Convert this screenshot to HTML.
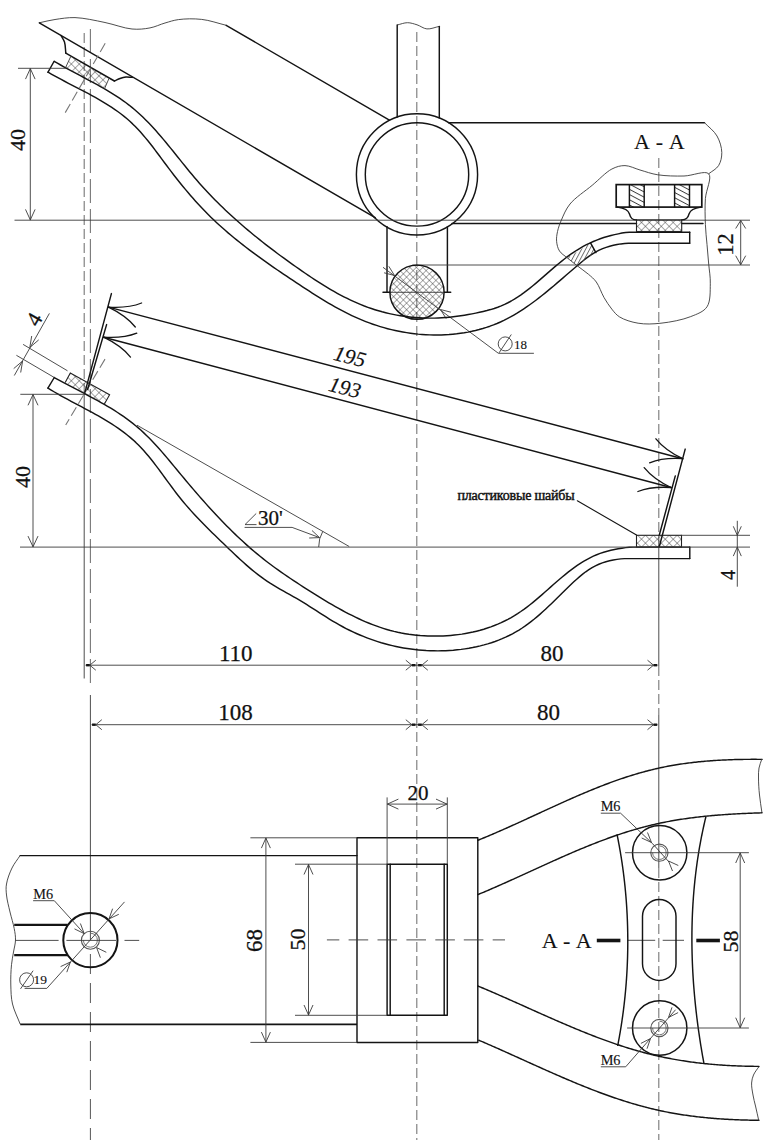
<!DOCTYPE html>
<html><head><meta charset="utf-8"><style>
html,body{margin:0;padding:0;background:#fff;}
body{width:774px;height:1140px;overflow:hidden;}
svg{display:block;}
.m{fill:none;stroke:#141414;stroke-width:1.45;stroke-linejoin:round;stroke-linecap:round;}
.w{fill:none;stroke:#222;stroke-width:1.1;}
.k{fill:none;stroke:#141414;stroke-width:1.9;}
.t{fill:none;stroke:#3a3a3a;stroke-width:0.9;}
.d{fill:none;stroke:#777;stroke-width:1.1;stroke-dasharray:10 4;}
.d2{fill:none;stroke:#555;stroke-width:1;stroke-dasharray:20 9;}
.num{font-family:"Liberation Serif",serif;font-size:21px;fill:#111;stroke:#111;stroke-width:0.25;}
.it{font-family:"Liberation Serif",serif;font-style:italic;font-size:21px;fill:#111;stroke:#111;stroke-width:0.15;}
.sans{font-family:"Liberation Sans",sans-serif;font-size:21px;fill:#111;}
.sm{font-family:"Liberation Serif",serif;font-size:13px;fill:#111;stroke:#111;stroke-width:0.12;}
</style></head><body>
<svg width="774" height="1140" viewBox="0 0 774 1140">
<defs>
<pattern id="xh" width="5.6" height="5.6" patternUnits="userSpaceOnUse" patternTransform="rotate(45)">
<path d="M0,0 L0,5.6 M0,0 L5.6,0" stroke="#333" stroke-width="0.85" fill="none"/>
</pattern>
<pattern id="xb" width="4.6" height="4.6" patternUnits="userSpaceOnUse" patternTransform="rotate(45)">
<path d="M0,0 L0,4.6 M0,0 L4.6,0" stroke="#333" stroke-width="0.8" fill="none"/>
</pattern>
<pattern id="sh" width="4.6" height="4.6" patternUnits="userSpaceOnUse" patternTransform="rotate(28)">
<path d="M0,0.5 L4.6,0.5" stroke="#333" stroke-width="0.9" fill="none"/>
</pattern>
<pattern id="sh2" width="3.6" height="3.6" patternUnits="userSpaceOnUse" patternTransform="rotate(-62)">
<path d="M0,0.5 L3.6,0.5" stroke="#444" stroke-width="0.75" fill="none"/>
</pattern>
</defs>
<rect width="774" height="1140" fill="#fff"/>
<line x1="416.8" y1="32" x2="416.8" y2="1140" class="d"/>
<line x1="658.8" y1="158" x2="658.8" y2="535" class="d"/>
<line x1="658.8" y1="535" x2="658.8" y2="666" class="t"/>
<line x1="658.8" y1="666" x2="658.8" y2="715" class="d"/>
<line x1="658.8" y1="715" x2="658.8" y2="868" class="t"/>
<line x1="658.8" y1="868" x2="658.8" y2="1140" class="d"/>
<line x1="84.2" y1="33" x2="84.2" y2="394" class="d"/>
<line x1="84.2" y1="394" x2="84.2" y2="678.5" class="t"/>
<line x1="90.4" y1="29" x2="90.4" y2="687" class="d" style="stroke-dasharray:24 6"/>
<line x1="90.4" y1="695" x2="90.4" y2="940" class="t"/>
<line x1="90.4" y1="954" x2="90.4" y2="1140" class="d2"/>
<path d="M39.3,22.8 C44.5,21.7 49.4,20.3 55,19.5 C61.2,18.6 67.7,17.4 75,17.6 C84,17.9 95.3,20.5 105,22.5 C114.3,24.4 123.9,28.3 132,29 C138.6,29.6 144.3,29 150,27.9 C155.3,26.9 160.1,24.4 165,23 C169.6,21.7 173.3,20.3 178.4,19.6 C185.1,18.7 193.9,18.5 201.7,19.4 C209.8,20.3 218,23.3 226.2,25.3" class="t"/>
<line x1="226.2" y1="25.3" x2="389.4" y2="120.2" class="m"/>
<line x1="39.3" y1="22.8" x2="375.2" y2="217.7" class="m"/>
<path d="M61,35.5 C62.2,37.7 63.7,39.5 64.5,42 C65.5,45.1 65.4,49.4 65.8,53.1" class="m"/>
<line x1="65.8" y1="53.1" x2="114.4" y2="81" class="m"/>
<path d="M114.4,81 C116.3,80.2 118.1,79.2 120,78.5 C121.9,77.8 124,77.2 126,77 C128.1,76.8 130.2,77.3 132.3,77.4" class="m"/>
<path d="M397.2,25 C400.6,24.2 404.1,22.7 407.5,22.7 C410.7,22.7 413.8,23.8 417,24.8 C420.3,25.8 423.4,28.6 426.9,28.9 C430.7,29.3 435.2,27.2 439.3,26.4" class="t"/>
<line x1="397.2" y1="25" x2="397.2" y2="117.1" class="m"/>
<line x1="439.3" y1="26.4" x2="439.3" y2="118.1" class="m"/>
<circle cx="417" cy="174.4" r="60.6" class="m"/>
<circle cx="417" cy="174.4" r="51.7" class="m"/>
<line x1="448.6" y1="122.7" x2="704.5" y2="122.7" class="m"/>
<path d="M704.5,122.7 C708.7,127.1 714.1,130.9 717,136 C719.8,140.9 721.7,147.3 721.8,152.5 C721.9,157.1 720.8,162 718.6,165.6 C716.4,169.1 712,171.1 708.7,173.8" class="t"/>
<line x1="387" y1="226.6" x2="387" y2="292.3" class="m"/>
<line x1="447.4" y1="226.7" x2="447.4" y2="292.3" class="m"/>
<line x1="452" y1="223.4" x2="636.5" y2="223.4" class="m"/>
<line x1="681.7" y1="223.4" x2="703" y2="223.4" class="m"/>
<line x1="14.5" y1="220.2" x2="750" y2="220.2" class="t"/>
<line x1="412.3" y1="265" x2="750" y2="265" class="t"/>
<circle cx="417" cy="292.2" r="27.1" class="m" style="fill:url(#xb)"/>
<line x1="389" y1="292.3" x2="445" y2="292.3" class="t"/>
<line x1="383" y1="292.3" x2="390" y2="292.3" class="m"/>
<line x1="444.5" y1="292.3" x2="450.7" y2="292.3" class="m"/>
<line x1="383" y1="267.3" x2="498.4" y2="353.3" class="t"/>
<line x1="498.4" y1="353.3" x2="533.9" y2="353.3" class="t"/>
<polyline points="384.1,272.8 394.5,275.5 388.8,266.3" class="t"/>
<polyline points="450.9,312.2 440.5,309.5 446.2,318.7" class="t"/>
<circle cx="505.2" cy="343.9" r="7" class="t"/>
<line x1="499" y1="352.9" x2="511.3" y2="334.5" class="t"/>
<text x="520.5" y="348.7" class="sm" text-anchor="middle" style="font-size:13px">18</text>
<path d="M54.23,61.30 L57.39,63.16 L60.59,65.00 L63.83,66.82 L67.10,68.61 L70.39,70.40 L73.71,72.17 L77.05,73.94 L80.39,75.71 L83.75,77.49 L87.11,79.27 L90.46,81.06 L93.82,82.87 L97.16,84.70 L100.48,86.55 L103.79,88.44 L107.07,90.35 L110.33,92.31 L113.55,94.30 L116.73,96.34 L119.87,98.43 L122.96,100.58 L126.00,102.78 L128.99,105.05 L131.91,107.38 L134.78,109.78 L137.59,112.23 L140.35,114.75 L143.06,117.32 L145.73,119.94 L148.35,122.60 L150.94,125.31 L153.48,128.06 L156.00,130.84 L158.49,133.66 L160.95,136.51 L163.38,139.38 L165.80,142.28 L168.20,145.19 L170.59,148.12 L172.97,151.06 L175.34,154.01 L177.70,156.96 L180.07,159.92 L182.44,162.87 L184.82,165.81 L187.20,168.75 L189.60,171.68 L192.01,174.58 L194.44,177.47 L196.90,180.34 L199.38,183.18 L201.88,185.99 L204.41,188.77 L206.97,191.53 L209.55,194.27 L212.15,196.98 L214.77,199.66 L217.42,202.32 L220.09,204.96 L222.78,207.58 L225.50,210.17 L228.23,212.74 L230.99,215.28 L233.76,217.81 L236.55,220.32 L239.37,222.80 L242.20,225.27 L245.05,227.71 L247.92,230.14 L250.80,232.55 L253.71,234.94 L256.63,237.31 L259.56,239.67 L262.51,242.01 L265.48,244.33 L268.46,246.64 L271.45,248.93 L274.46,251.20 L277.48,253.47 L280.52,255.72 L283.57,257.95 L286.63,260.17 L289.70,262.38 L292.78,264.58 L295.87,266.77 L298.97,268.94 L302.09,271.11 L305.21,273.25 L308.35,275.38 L311.50,277.49 L314.66,279.58 L317.84,281.63 L321.03,283.66 L324.24,285.66 L327.47,287.62 L330.72,289.54 L333.98,291.42 L337.26,293.26 L340.57,295.05 L343.89,296.78 L347.24,298.47 L350.61,300.10 L354.01,301.67 L357.43,303.18 L360.88,304.63 L364.35,306.01 L367.85,307.31 L371.38,308.55 L374.93,309.71 L378.52,310.80 L382.12,311.81 L385.75,312.74 L389.41,313.60 L393.08,314.39 L396.77,315.10 L400.48,315.74 L404.20,316.30 L407.93,316.79 L411.68,317.20 L415.44,317.53 L419.20,317.80 L422.98,317.99 L426.75,318.10 L430.54,318.14 L434.32,318.10 L438.11,317.99 L441.89,317.80 L445.67,317.54 L449.45,317.21 L453.22,316.80 L456.98,316.32 L460.75,315.79 L464.50,315.19 L468.26,314.54 L472.01,313.84 L475.75,313.10 L479.49,312.31 L483.22,311.47 L486.92,310.56 L490.58,309.57 L494.20,308.47 L497.75,307.25 L501.23,305.90 L504.63,304.40 L507.95,302.76 L511.21,301.00 L514.40,299.12 L517.54,297.14 L520.62,295.06 L523.66,292.90 L526.66,290.66 L529.62,288.35 L532.55,285.99 L535.46,283.57 L538.34,281.12 L541.22,278.64 L544.09,276.15 L546.95,273.64 L549.82,271.14 L552.70,268.65 L555.59,266.17 L558.50,263.73 L561.44,261.33 L564.41,258.98 L567.41,256.69 L570.46,254.46 L573.56,252.32 L576.70,250.26 L579.91,248.31 L583.17,246.45 L586.49,244.70 L589.86,243.05 L593.27,241.51 L596.73,240.08 L600.24,238.75 L603.78,237.54 L607.36,236.45 L610.97,235.47 L614.61,234.61 L618.27,233.86 L621.96,233.04 L625.68,232.43 L629.41,232.22 L633.15,232.20 L636.91,232.20 L640.68,232.20 L644.45,232.20 L648.23,232.20 L652.01,232.20 L655.79,232.20 L659.57,232.20 L663.34,232.20 L667.10,232.20 L670.87,232.20 L674.63,232.20 L678.39,232.20 L682.16,232.20 L685.92,232.20 L689.70,232.20" class="m"/>
<path d="M48.08,72.20 L51.30,74.06 L54.56,75.88 L57.86,77.69 L61.20,79.48 L64.57,81.25 L67.96,83.02 L71.36,84.79 L74.78,86.55 L78.21,88.32 L81.64,90.11 L85.07,91.91 L88.49,93.72 L91.90,95.57 L95.29,97.44 L98.65,99.35 L101.99,101.29 L105.29,103.28 L108.55,105.32 L111.77,107.41 L114.94,109.56 L118.05,111.77 L121.10,114.04 L124.09,116.39 L127.01,118.81 L129.85,121.32 L132.62,123.90 L135.31,126.57 L137.94,129.30 L140.51,132.10 L143.02,134.95 L145.48,137.86 L147.91,140.81 L150.29,143.80 L152.65,146.82 L154.97,149.87 L157.29,152.94 L159.58,156.02 L161.87,159.11 L164.16,162.20 L166.46,165.29 L168.76,168.36 L171.08,171.42 L173.42,174.47 L175.77,177.49 L178.14,180.50 L180.53,183.49 L182.95,186.46 L185.38,189.41 L187.83,192.33 L190.31,195.23 L192.82,198.10 L195.35,200.95 L197.91,203.77 L200.50,206.57 L203.11,209.33 L205.76,212.07 L208.44,214.77 L211.16,217.44 L213.90,220.08 L216.68,222.69 L219.49,225.26 L222.33,227.81 L225.19,230.33 L228.08,232.83 L231.00,235.29 L233.94,237.73 L236.91,240.15 L239.90,242.54 L242.91,244.91 L245.94,247.26 L248.99,249.59 L252.05,251.90 L255.13,254.18 L258.23,256.45 L261.35,258.71 L264.47,260.94 L267.61,263.16 L270.76,265.37 L273.92,267.56 L277.08,269.74 L280.26,271.90 L283.44,274.06 L286.62,276.20 L289.81,278.34 L293.01,280.47 L296.20,282.59 L299.40,284.70 L302.59,286.81 L305.79,288.90 L309.00,290.98 L312.20,293.05 L315.42,295.10 L318.65,297.12 L321.89,299.12 L325.14,301.09 L328.40,303.03 L331.68,304.94 L334.98,306.81 L338.30,308.64 L341.64,310.44 L345.00,312.18 L348.39,313.88 L351.80,315.53 L355.24,317.13 L358.71,318.67 L362.21,320.15 L365.75,321.57 L369.32,322.92 L372.92,324.21 L376.56,325.43 L380.23,326.58 L383.93,327.67 L387.66,328.68 L391.41,329.62 L395.18,330.48 L398.98,331.28 L402.79,332.00 L406.62,332.64 L410.46,333.21 L414.31,333.70 L418.17,334.12 L422.04,334.45 L425.91,334.71 L429.78,334.89 L433.65,334.99 L437.52,335.00 L441.38,334.93 L445.23,334.78 L449.07,334.55 L452.90,334.23 L456.72,333.83 L460.51,333.33 L464.29,332.76 L468.05,332.09 L471.78,331.33 L475.48,330.49 L479.15,329.55 L482.79,328.52 L486.40,327.40 L489.97,326.19 L493.51,324.88 L497.00,323.48 L500.45,321.98 L503.85,320.39 L507.21,318.70 L510.54,316.93 L513.82,315.08 L517.07,313.16 L520.28,311.16 L523.46,309.09 L526.61,306.96 L529.73,304.77 L532.83,302.53 L535.90,300.24 L538.95,297.90 L541.98,295.52 L544.99,293.11 L547.99,290.66 L550.97,288.18 L553.94,285.69 L556.90,283.17 L559.85,280.64 L562.79,278.10 L565.73,275.56 L568.67,273.02 L571.61,270.48 L574.55,267.95 L577.49,265.43 L580.45,262.93 L583.42,260.49 L586.44,258.13 L589.50,255.88 L592.64,253.78 L595.87,251.86 L599.20,250.14 L602.63,248.64 L606.15,247.34 L609.74,246.24 L613.40,245.31 L617.11,244.57 L620.86,243.91 L624.64,243.44 L628.45,243.30 L632.26,243.30 L636.09,243.30 L639.93,243.30 L643.77,243.30 L647.62,243.30 L651.46,243.30 L655.29,243.30 L659.12,243.30 L662.94,243.30 L666.75,243.30 L670.57,243.30 L674.38,243.30 L678.20,243.30 L682.03,243.30 L685.86,243.30 L689.70,243.30" class="m"/>
<line x1="689.7" y1="232.2" x2="689.7" y2="243.3" class="m"/>
<line x1="54" y1="61.5" x2="47.9" y2="72.3" class="m"/>
<polygon points="70.8,56.4 109,78.4 104.4,89 65.7,67.3" style="fill:url(#xh)" stroke="none"/>
<line x1="65.7" y1="67.3" x2="70.8" y2="56.4" class="t"/>
<line x1="109" y1="78.4" x2="104.4" y2="89" class="t"/>
<line x1="105.2" y1="43.3" x2="64.1" y2="114.6" class="d"/>
<path d="M708.7,173.8 C705.1,170.1 692.4,175.8 684,176 C675.4,176.2 665.6,176 657.8,174.8 C651.2,173.8 645.7,171.6 640,170 C634.8,168.5 629.8,165.7 625,165.6 C620.5,165.5 616.4,166.7 611.9,169 C605.7,172.2 599,179.7 592.2,185.3 C585,191.3 575.3,197.5 570,204 C565.8,209.2 563.6,215 561.4,220 C559.6,224.1 558.3,227.9 557.5,231.6 C556.8,234.9 556.3,238.1 556.6,241.3 C556.9,244.6 557.7,248.3 559.5,251 C561.3,253.8 564.5,255.5 567.2,257.8 C570.2,260.3 573.5,262.9 576.9,265.5 C580.6,268.4 585.1,271.4 588.5,274.3 C591.5,276.9 593.9,278.7 596.3,282 C599.3,286.1 601.3,292.8 604,297.5 C606.5,301.7 609,305.7 611.8,309.1 C614.2,312.1 616.1,314.7 619.5,316.9 C624.1,319.8 631.5,322.1 638.1,323.2 C645.2,324.4 652.9,324.1 661,323.2 C670.3,322.2 682.5,319.9 690.7,316.6 C697.2,314 703.7,311.8 707,306.8 C710.7,301.3 710.1,291.2 710.3,283.8 C710.5,277 709.3,270.6 708.7,264 C708.2,257.4 707.5,250.9 707,244.4 C706.4,237.8 705.7,231.7 705.4,224.7 C705.1,216.6 704.8,207.1 705.4,198.5 C706,190.1 712.3,177.5 708.7,173.8Z" class="t"/>
<rect x="629.4" y="184.6" width="14.8" height="22.5" fill="url(#sh)"/>
<rect x="674.6" y="184.6" width="14.9" height="22.5" fill="url(#sh)"/>
<rect x="616.2" y="184.6" width="85.6" height="22.5" class="k" style="stroke-width:1.7"/>
<line x1="629.4" y1="184.6" x2="629.4" y2="207.1" class="m"/>
<line x1="644.2" y1="184.6" x2="644.2" y2="207.1" class="m"/>
<line x1="674.6" y1="184.6" x2="674.6" y2="207.1" class="m"/>
<line x1="689.5" y1="184.6" x2="689.5" y2="207.1" class="m"/>
<path d="M617.5,207.1 C624,208 628.5,210.5 629.5,214 C630.5,218 632,219.8 636.5,219.9" class="m"/>
<path d="M701,207.1 C694,208 690,210.5 689,214 C688,218 686.5,219.8 681.7,219.9" class="m"/>
<rect x="636.5" y="219.9" width="45.2" height="11.6" class="w" style="fill:url(#xh)"/>
<polygon points="567.2,257.8 590.5,242.9 595.9,252.6 576.9,265.5" fill="url(#sh2)"/>
<line x1="590.5" y1="242.9" x2="595.9" y2="252.6" class="m"/>
<text x="659.3" y="148.6" class="num" text-anchor="middle" style="font-size:22px;word-spacing:1.5px;stroke-width:0.1">A - A</text>
<line x1="18" y1="68.3" x2="66" y2="68.3" class="t"/>
<line x1="30.3" y1="68.3" x2="30.3" y2="220.2" class="t"/>
<polyline points="35.1,79.1 30.3,68.6 25.5,79.1" class="t"/>
<polyline points="25.5,209.4 30.3,219.9 35.1,209.4" class="t"/>
<text x="24.5" y="140" class="num" text-anchor="middle" transform="rotate(-90 24.5 140)" style="font-size:22px">40</text>
<line x1="740.7" y1="220.2" x2="740.7" y2="265" class="t"/>
<polyline points="745.7,228.5 740.7,220.5 735.7,228.5" class="t"/>
<polyline points="735.7,255.7 740.7,264.7 745.7,255.7" class="t"/>
<text x="732.5" y="244.5" class="num" text-anchor="middle" transform="rotate(-90 732.5 244.5)" style="font-size:22.5px">12</text>
<path d="M54.26,377.61 L57.54,379.41 L60.83,381.19 L64.15,382.96 L67.48,384.72 L70.83,386.47 L74.19,388.22 L77.55,389.97 L80.92,391.72 L84.28,393.48 L87.65,395.25 L91.00,397.04 L94.35,398.84 L97.68,400.67 L101.00,402.51 L104.29,404.39 L107.56,406.30 L110.81,408.24 L114.02,410.22 L117.20,412.24 L120.35,414.31 L123.45,416.42 L126.51,418.59 L129.53,420.81 L132.49,423.09 L135.40,425.44 L138.26,427.84 L141.06,430.31 L143.80,432.85 L146.50,435.43 L149.16,438.07 L151.77,440.75 L154.35,443.48 L156.90,446.25 L159.42,449.05 L161.91,451.88 L164.38,454.74 L166.83,457.61 L169.27,460.51 L171.69,463.42 L174.11,466.34 L176.53,469.27 L178.95,472.19 L181.37,475.12 L183.80,478.03 L186.23,480.95 L188.68,483.85 L191.13,486.74 L193.59,489.63 L196.06,492.51 L198.55,495.37 L201.04,498.22 L203.54,501.07 L206.06,503.89 L208.59,506.71 L211.14,509.50 L213.70,512.29 L216.27,515.05 L218.86,517.80 L221.47,520.53 L224.09,523.24 L226.74,525.93 L229.40,528.60 L232.07,531.24 L234.77,533.87 L237.49,536.47 L240.23,539.04 L243.00,541.59 L245.78,544.12 L248.59,546.61 L251.42,549.08 L254.27,551.52 L257.15,553.93 L260.06,556.31 L262.99,558.66 L265.95,560.98 L268.93,563.26 L271.95,565.51 L274.98,567.74 L278.04,569.93 L281.12,572.10 L284.22,574.25 L287.34,576.38 L290.47,578.49 L293.62,580.59 L296.78,582.67 L299.94,584.74 L303.12,586.80 L306.30,588.86 L309.49,590.90 L312.69,592.93 L315.90,594.94 L319.12,596.94 L322.35,598.91 L325.59,600.87 L328.84,602.80 L332.11,604.70 L335.39,606.58 L338.69,608.43 L342.00,610.24 L345.33,612.02 L348.67,613.77 L352.03,615.47 L355.41,617.13 L358.80,618.74 L362.22,620.29 L365.66,621.80 L369.12,623.24 L372.60,624.62 L376.11,625.93 L379.64,627.18 L383.20,628.35 L386.79,629.45 L390.40,630.47 L394.04,631.40 L397.71,632.25 L401.41,633.01 L405.14,633.68 L408.88,634.27 L412.65,634.77 L416.43,635.19 L420.22,635.53 L424.03,635.78 L427.83,635.96 L431.64,636.06 L435.45,636.09 L439.25,636.04 L443.05,635.91 L446.84,635.71 L450.61,635.43 L454.37,635.07 L458.12,634.63 L461.85,634.11 L465.56,633.50 L469.25,632.81 L472.92,632.04 L476.56,631.17 L480.18,630.22 L483.77,629.19 L487.32,628.06 L490.85,626.84 L494.34,625.52 L497.79,624.11 L501.21,622.61 L504.58,621.01 L507.91,619.31 L511.20,617.52 L514.44,615.62 L517.63,613.62 L520.78,611.52 L523.88,609.34 L526.94,607.07 L529.97,604.72 L532.96,602.32 L535.93,599.87 L538.87,597.37 L541.80,594.84 L544.72,592.28 L547.63,589.72 L550.53,587.15 L553.43,584.58 L556.34,582.03 L559.26,579.51 L562.20,577.02 L565.15,574.58 L568.13,572.19 L571.13,569.86 L574.17,567.61 L577.24,565.44 L580.36,563.37 L583.52,561.40 L586.73,559.54 L589.99,557.80 L593.32,556.19 L596.71,554.73 L600.16,553.41 L603.67,552.23 L607.24,551.19 L610.84,550.27 L614.49,549.47 L618.18,548.80 L621.89,548.22 L625.63,547.61 L629.38,547.22 L633.14,547.10 L636.91,547.10 L640.69,547.10 L644.47,547.10 L648.26,547.10 L652.05,547.10 L655.83,547.10 L659.62,547.10 L663.40,547.10 L667.18,547.10 L670.95,547.10 L674.72,547.10 L678.49,547.10 L682.26,547.10 L686.02,547.10 L689.79,547.10" class="m"/>
<path d="M47.99,388.11 L51.18,390.08 L54.42,392.00 L57.70,393.90 L61.01,395.77 L64.35,397.62 L67.72,399.45 L71.11,401.28 L74.52,403.09 L77.93,404.90 L81.36,406.72 L84.78,408.54 L88.20,410.37 L91.61,412.22 L95.01,414.09 L98.39,415.98 L101.75,417.91 L105.08,419.86 L108.38,421.86 L111.64,423.91 L114.85,426.00 L118.02,428.14 L121.14,430.35 L124.20,432.61 L127.20,434.95 L130.13,437.35 L132.99,439.83 L135.77,442.40 L138.48,445.04 L141.11,447.76 L143.68,450.56 L146.19,453.41 L148.64,456.32 L151.05,459.28 L153.43,462.28 L155.76,465.32 L158.08,468.39 L160.37,471.48 L162.65,474.59 L164.92,477.70 L167.18,480.82 L169.46,483.94 L171.75,487.05 L174.05,490.14 L176.38,493.21 L178.74,496.25 L181.14,499.25 L183.58,502.21 L186.05,505.14 L188.57,508.03 L191.11,510.89 L193.69,513.72 L196.29,516.52 L198.93,519.30 L201.58,522.06 L204.26,524.79 L206.96,527.51 L209.68,530.22 L212.41,532.91 L215.15,535.59 L217.91,538.26 L220.68,540.92 L223.45,543.59 L226.22,546.25 L229.00,548.91 L231.78,551.57 L234.58,554.22 L237.38,556.85 L240.20,559.46 L243.04,562.05 L245.90,564.60 L248.79,567.12 L251.72,569.59 L254.67,572.01 L257.67,574.37 L260.71,576.67 L263.79,578.90 L266.93,581.05 L270.11,583.13 L273.34,585.14 L276.61,587.11 L279.91,589.03 L283.23,590.92 L286.57,592.80 L289.91,594.68 L293.25,596.57 L296.59,598.48 L299.92,600.43 L303.22,602.43 L306.51,604.46 L309.78,606.53 L313.05,608.61 L316.31,610.71 L319.57,612.81 L322.83,614.90 L326.10,616.97 L329.38,619.02 L332.67,621.03 L335.99,622.99 L339.32,624.90 L342.69,626.75 L346.08,628.53 L349.49,630.24 L352.93,631.89 L356.40,633.48 L359.89,635.00 L363.40,636.45 L366.94,637.84 L370.50,639.16 L374.08,640.41 L377.68,641.59 L381.30,642.71 L384.95,643.75 L388.61,644.73 L392.29,645.63 L395.99,646.47 L399.71,647.23 L403.45,647.93 L407.20,648.55 L410.97,649.09 L414.76,649.57 L418.56,649.97 L422.38,650.30 L426.21,650.56 L430.06,650.73 L433.92,650.84 L437.79,650.87 L441.67,650.82 L445.56,650.70 L449.46,650.49 L453.35,650.21 L457.23,649.84 L461.11,649.40 L464.98,648.86 L468.83,648.25 L472.66,647.55 L476.47,646.76 L480.25,645.88 L484.00,644.91 L487.72,643.85 L491.40,642.70 L495.04,641.46 L498.63,640.12 L502.17,638.69 L505.66,637.15 L509.10,635.52 L512.47,633.80 L515.78,631.97 L519.02,630.04 L522.19,628.01 L525.30,625.88 L528.36,623.67 L531.36,621.38 L534.32,619.02 L537.23,616.59 L540.11,614.09 L542.96,611.55 L545.78,608.95 L548.58,606.32 L551.37,603.65 L554.15,600.95 L556.93,598.23 L559.71,595.50 L562.49,592.75 L565.29,590.01 L568.10,587.27 L570.94,584.54 L573.80,581.83 L576.70,579.18 L579.66,576.61 L582.66,574.14 L585.73,571.79 L588.87,569.61 L592.10,567.60 L595.41,565.80 L598.82,564.23 L602.32,562.87 L605.90,561.72 L609.54,560.77 L613.24,560.00 L616.98,559.39 L620.76,558.86 L624.56,558.62 L628.38,558.60 L632.22,558.60 L636.06,558.60 L639.92,558.60 L643.77,558.60 L647.62,558.60 L651.47,558.60 L655.30,558.60 L659.14,558.60 L662.96,558.60 L666.79,558.60 L670.61,558.60 L674.44,558.60 L678.27,558.60 L682.11,558.60 L685.95,558.60 L689.80,558.60" class="m"/>
<line x1="689.8" y1="547.1" x2="689.8" y2="558.6" class="m"/>
<line x1="54.3" y1="377.5" x2="47.9" y2="388.1" class="m"/>
<polygon points="70.3,373.1 109.6,394.8 104.4,404.1 65.2,382.6" style="fill:url(#xh)" stroke="none"/>
<polyline points="65.2,382.6 70.3,373.1 109.6,394.8 104.4,404.1" class="w"/>
<line x1="105" y1="359.1" x2="65.7" y2="425" class="d"/>
<rect x="636.5" y="535.3" width="45" height="11.8" class="w" style="fill:url(#xh)"/>
<line x1="111.4" y1="293.6" x2="84.6" y2="393.6" class="m"/>
<line x1="106.6" y1="324.6" x2="87.6" y2="389.5" class="m"/>
<line x1="685.2" y1="449.1" x2="659.4" y2="546.3" class="m"/>
<line x1="675.3" y1="475.9" x2="659.4" y2="534.7" class="m"/>
<line x1="108.5" y1="307.1" x2="682.7" y2="458.7" class="m"/>
<line x1="103.7" y1="337.2" x2="671" y2="487.5" class="m"/>
<path d="M108.5,307.1 Q128,308.4 141.6,303" class="m" style="stroke-width:1.3"/>
<path d="M108.5,307.1 Q126.1,315.6 135.3,327" class="m" style="stroke-width:1.3"/>
<path d="M682.7,458.7 Q663.2,457.4 649.6,462.8" class="m" style="stroke-width:1.3"/>
<path d="M682.7,458.7 Q665.1,450.2 655.9,438.8" class="m" style="stroke-width:1.3"/>
<path d="M103.7,337.2 Q123.2,338.5 136.8,333.2" class="m" style="stroke-width:1.3"/>
<path d="M103.7,337.2 Q121.3,345.7 130.5,357.1" class="m" style="stroke-width:1.3"/>
<path d="M671,487.5 Q651.5,486.2 637.9,491.5" class="m" style="stroke-width:1.3"/>
<path d="M671,487.5 Q653.4,479 644.2,467.6" class="m" style="stroke-width:1.3"/>
<text x="348" y="363.5" class="it" text-anchor="middle" transform="rotate(14.8 348 363.5)" style="font-size:21.5px">195</text>
<text x="343" y="394.5" class="it" text-anchor="middle" transform="rotate(14.8 343 394.5)" style="font-size:21.5px">193</text>
<line x1="137" y1="425.2" x2="349.2" y2="546.5" class="t"/>
<line x1="20" y1="547.1" x2="750" y2="547.1" class="t"/>
<line x1="244.6" y1="527.4" x2="292.1" y2="527.4" class="t"/>
<line x1="292.1" y1="527.4" x2="319.5" y2="537.6" class="t"/>
<polyline points="309.2,538 319.5,537.6 312,530.5" class="t"/>
<path d="M322.8,531.3 A30.5,30.5 0 0 0 318.7,547" class="t"/>
<text x="270.3" y="524.5" class="num" text-anchor="middle" style="font-size:21px">30'</text>
<polyline points="256.2,513.5 245,524.6 256.5,524.6" class="t"/>
<line x1="23.1" y1="344.4" x2="67.5" y2="370.8" class="t"/>
<line x1="16.4" y1="355.3" x2="54.3" y2="377.5" class="t"/>
<line x1="49.4" y1="313.4" x2="14.3" y2="375.5" class="t"/>
<polyline points="31.7,336 29.8,347.5 38.7,339.9" class="t"/>
<polyline points="20.7,372.5 22.6,361 13.7,368.6" class="t"/>
<text x="40.5" y="323" class="num" text-anchor="middle" transform="rotate(-60 40.5 323)" style="font-size:22px">4</text>
<line x1="20.3" y1="394.3" x2="85.3" y2="394.3" class="t"/>
<line x1="33" y1="394.3" x2="33" y2="547.1" class="t"/>
<polyline points="38,405.3 33,394.6 28,405.3" class="t"/>
<polyline points="28,536.1 33,546.8 38,536.1" class="t"/>
<text x="30.2" y="477" class="num" text-anchor="middle" transform="rotate(-90 30.2 477)" style="font-size:22px">40</text>
<line x1="681.4" y1="535.3" x2="750" y2="535.3" class="t"/>
<line x1="737.3" y1="520.8" x2="737.3" y2="586.7" class="t"/>
<polyline points="733.3,526.3 737.3,535.3 741.3,526.3" class="t"/>
<polyline points="741.3,556.1 737.3,547.1 733.3,556.1" class="t"/>
<text x="734.5" y="575" class="num" text-anchor="middle" transform="rotate(-90 734.5 575)" style="font-size:20px">4</text>
<text x="516" y="499.5" class="sm" text-anchor="middle" style="font-size:14px;stroke-width:0.45;letter-spacing:-0.2px">пластиковые шайбы</text>
<line x1="577.3" y1="500.8" x2="636.5" y2="534.9" class="m" style="stroke-width:1.1"/>
<line x1="85.5" y1="665.2" x2="657.5" y2="665.2" class="t"/>
<line x1="86.1" y1="665.2" x2="89.8" y2="665.2" class="k" style="stroke-width:2.4"/>
<polyline points="95.8,660.2 89.8,665.2 95.8,670.2" class="t"/>
<line x1="415.5" y1="665.2" x2="411.8" y2="665.2" class="k" style="stroke-width:2.4"/>
<polyline points="405.8,670.2 411.8,665.2 405.8,660.2" class="t"/>
<line x1="418.1" y1="665.2" x2="421.8" y2="665.2" class="k" style="stroke-width:2.4"/>
<polyline points="427.8,660.2 421.8,665.2 427.8,670.2" class="t"/>
<line x1="657.2" y1="665.2" x2="653.5" y2="665.2" class="k" style="stroke-width:2.4"/>
<polyline points="647.5,670.2 653.5,665.2 647.5,660.2" class="t"/>
<text x="235.8" y="660.8" class="num" text-anchor="middle" style="font-size:23px">110</text>
<text x="552.1" y="660.8" class="num" text-anchor="middle" style="font-size:23px">80</text>
<line x1="91.5" y1="724.7" x2="657.5" y2="724.7" class="t"/>
<line x1="92.1" y1="724.7" x2="95.8" y2="724.7" class="k" style="stroke-width:2.4"/>
<polyline points="101.8,719.7 95.8,724.7 101.8,729.7" class="t"/>
<line x1="415.5" y1="724.7" x2="411.8" y2="724.7" class="k" style="stroke-width:2.4"/>
<polyline points="405.8,729.7 411.8,724.7 405.8,719.7" class="t"/>
<line x1="418.1" y1="724.7" x2="421.8" y2="724.7" class="k" style="stroke-width:2.4"/>
<polyline points="427.8,719.7 421.8,724.7 427.8,729.7" class="t"/>
<line x1="657.2" y1="724.7" x2="653.5" y2="724.7" class="k" style="stroke-width:2.4"/>
<polyline points="647.5,729.7 653.5,724.7 647.5,719.7" class="t"/>
<text x="235.5" y="720.3" class="num" text-anchor="middle" style="font-size:23px">108</text>
<text x="548.5" y="720.3" class="num" text-anchor="middle" style="font-size:23px">80</text>
<path d="M20.2,855.4 C17.5,859.6 14.2,863.4 12,868 C9.6,872.9 7.3,879.1 6.5,884 C5.8,887.9 6.1,891 6.5,895 C7,900.1 8.7,906.4 10,912 C11.3,917.6 13.3,923.5 14.2,928.5 C15,932.7 15.6,936.1 15.5,940 C15.4,944 14.2,947.9 13.5,952 C12.8,956.2 12,960 11.5,964.7 C10.9,970.7 10.6,978.4 10.8,985 C11,991.4 11,997.7 12.5,1004 C14.1,1010.7 17.6,1017.4 20.2,1024.1" class="t"/>
<line x1="20.2" y1="855.6" x2="357" y2="855.6" class="m"/>
<line x1="20.2" y1="1024.4" x2="357" y2="1024.4" class="k" style="stroke-width:1.7"/>
<line x1="14.2" y1="924.9" x2="67.4" y2="924.9" class="k" style="stroke-width:2.2"/>
<line x1="14.2" y1="955.1" x2="67.4" y2="955.1" class="k" style="stroke-width:2.2"/>
<circle cx="90.4" cy="940.2" r="27.1" class="k" style="stroke-width:2"/>
<circle cx="90.4" cy="940.2" r="9" class="t" style="stroke:#555;stroke-width:1.1"/>
<path d="M83.4,940.2 A7,7 0 1 0 90.4,933.2" class="t" style="stroke:#666;stroke-width:0.9"/>
<line x1="15.5" y1="940.4" x2="58.6" y2="940.4" class="t"/>
<line x1="66.4" y1="940.4" x2="116" y2="940.4" class="t"/>
<line x1="124.5" y1="940.4" x2="139.2" y2="940.4" class="t"/>
<text x="43.3" y="898.8" class="sm" text-anchor="middle" style="font-size:14.3px">M6</text>
<line x1="33.1" y1="900.7" x2="54.3" y2="900.7" class="t"/>
<line x1="54.3" y1="900.7" x2="84.2" y2="933.6" class="t"/>
<polyline points="74.5,928.9 84.2,933.6 80.4,923.5" class="t"/>
<polyline points="106.3,952.3 96.6,947.6 100.4,957.7" class="t"/>
<circle cx="26.6" cy="979.8" r="7" class="t"/>
<line x1="20.5" y1="988.9" x2="33.1" y2="970.7" class="t"/>
<text x="40.2" y="983.8" class="sm" text-anchor="middle" style="font-size:13.5px">19</text>
<line x1="24.6" y1="988.4" x2="46.8" y2="988.4" class="t"/>
<line x1="46.8" y1="988.4" x2="124.5" y2="901.9" class="t"/>
<polyline points="66.8,972.2 70.4,962 60.6,966.6" class="t"/>
<polyline points="112.6,908.7 109,918.9 118.8,914.3" class="t"/>
<rect x="357" y="837.8" width="120.8" height="204.6" class="m"/>
<rect x="387.1" y="864.2" width="60.2" height="151.1" class="m"/>
<line x1="390.2" y1="864.2" x2="390.2" y2="1015.3" class="m"/>
<line x1="444.2" y1="864.2" x2="444.2" y2="1015.3" class="m"/>
<line x1="326.9" y1="939.9" x2="339.3" y2="939.9" class="t"/>
<line x1="348.6" y1="939.9" x2="368.2" y2="939.9" class="t"/>
<line x1="377.5" y1="939.9" x2="397.1" y2="939.9" class="t"/>
<line x1="406.4" y1="939.9" x2="426" y2="939.9" class="t"/>
<line x1="435.3" y1="939.9" x2="454.9" y2="939.9" class="t"/>
<line x1="463.8" y1="939.9" x2="483.4" y2="939.9" class="t"/>
<line x1="492.7" y1="939.9" x2="505" y2="939.9" class="t"/>
<line x1="627.6" y1="940.3" x2="655.2" y2="940.3" class="t"/>
<line x1="662.7" y1="940.3" x2="684" y2="940.3" class="t"/>
<line x1="250.4" y1="837.8" x2="357" y2="837.8" class="t"/>
<line x1="250.4" y1="1042.4" x2="357" y2="1042.4" class="t"/>
<line x1="265.9" y1="837.8" x2="265.9" y2="1042.4" class="t"/>
<polyline points="270.4,848.1 265.9,838.1 261.4,848.1" class="t"/>
<polyline points="261.4,1032.1 265.9,1042.1 270.4,1032.1" class="t"/>
<text x="261.5" y="940.5" class="num" text-anchor="middle" transform="rotate(-90 261.5 940.5)" style="font-size:23px">68</text>
<line x1="295" y1="864.2" x2="387.1" y2="864.2" class="t"/>
<line x1="295" y1="1015.3" x2="387.1" y2="1015.3" class="t"/>
<line x1="308.5" y1="864.2" x2="308.5" y2="1015.3" class="t"/>
<polyline points="313,874.5 308.5,864.5 304,874.5" class="t"/>
<polyline points="304,1005 308.5,1015 313,1005" class="t"/>
<text x="304.5" y="939.5" class="num" text-anchor="middle" transform="rotate(-90 304.5 939.5)" style="font-size:22px">50</text>
<line x1="387.1" y1="797.4" x2="387.1" y2="864.2" class="t"/>
<line x1="447.3" y1="797.4" x2="447.3" y2="864.2" class="t"/>
<line x1="387.1" y1="804.1" x2="447.3" y2="804.1" class="t"/>
<polyline points="398.4,799.1 387.4,804.1 398.4,809.1" class="t"/>
<polyline points="436,809.1 447,804.1 436,799.1" class="t"/>
<text x="418" y="800.2" class="num" text-anchor="middle" style="font-size:21px">20</text>
<path d="M477.87,840.27 L479.25,839.71 L480.63,839.16 L482.01,838.59 L483.39,838.03 L484.77,837.46 L486.14,836.89 L487.52,836.32 L488.90,835.74 L490.27,835.16 L491.65,834.57 L493.02,833.99 L494.40,833.40 L495.77,832.81 L497.15,832.21 L498.52,831.62 L499.89,831.02 L501.27,830.41 L502.64,829.81 L504.01,829.20 L505.38,828.60 L506.75,827.99 L508.12,827.38 L509.49,826.76 L510.86,826.15 L512.23,825.53 L513.60,824.91 L514.97,824.29 L516.34,823.67 L517.71,823.05 L519.08,822.42 L520.45,821.80 L521.82,821.17 L523.19,820.54 L524.56,819.92 L525.93,819.29 L527.30,818.66 L528.67,818.03 L530.04,817.40 L531.41,816.76 L532.78,816.13 L534.14,815.50 L535.51,814.87 L536.88,814.24 L538.25,813.60 L539.62,812.97 L540.99,812.34 L542.36,811.71 L543.74,811.07 L545.11,810.44 L546.48,809.81 L547.85,809.18 L549.22,808.55 L550.59,807.92 L551.97,807.29 L553.34,806.66 L554.71,806.04 L556.09,805.41 L557.46,804.79 L558.83,804.16 L560.21,803.54 L561.58,802.92 L562.96,802.30 L564.34,801.68 L565.71,801.07 L567.09,800.45 L568.47,799.84 L569.85,799.23 L571.23,798.62 L572.61,798.01 L573.99,797.41 L575.37,796.80 L576.75,796.20 L578.14,795.61 L579.52,795.01 L580.90,794.42 L582.29,793.83 L583.68,793.24 L585.06,792.65 L586.45,792.07 L587.84,791.49 L589.23,790.92 L590.62,790.34 L592.01,789.77 L593.40,789.21 L594.80,788.64 L596.19,788.08 L597.58,787.53 L598.98,786.98 L600.38,786.43 L601.78,785.88 L603.18,785.34 L604.58,784.80 L605.98,784.27 L607.38,783.74 L608.78,783.22 L610.19,782.69 L611.60,782.18 L613.00,781.67 L614.41,781.16 L615.82,780.66 L617.23,780.16 L618.65,779.66 L620.06,779.18 L621.47,778.69 L622.89,778.21 L624.31,777.74 L625.73,777.27 L627.15,776.81 L628.57,776.35 L629.99,775.90 L631.42,775.45 L632.85,775.01 L634.27,774.58 L635.70,774.15 L637.14,773.73 L638.57,773.31 L640.00,772.90 L641.44,772.49 L642.88,772.09 L644.32,771.70 L645.76,771.31 L647.20,770.93 L648.64,770.56 L650.09,770.19 L651.54,769.83 L652.99,769.48 L654.44,769.13 L655.89,768.79 L657.35,768.46 L658.80,768.13 L660.26,767.82 L661.72,767.51 L663.18,767.20 L664.65,766.90 L666.11,766.61 L667.58,766.33 L669.05,766.05 L670.52,765.78 L671.99,765.52 L673.47,765.26 L674.94,765.01 L676.42,764.77 L677.90,764.53 L679.38,764.30 L680.86,764.08 L682.34,763.86 L683.82,763.65 L685.31,763.44 L686.80,763.24 L688.28,763.05 L689.77,762.86 L691.26,762.67 L692.75,762.50 L694.25,762.33 L695.74,762.16 L697.24,762.00 L698.73,761.84 L700.23,761.69 L701.72,761.55 L703.22,761.41 L704.72,761.28 L706.22,761.15 L707.72,761.03 L709.22,760.91 L710.73,760.79 L712.23,760.68 L713.73,760.58 L715.24,760.48 L716.74,760.39 L718.25,760.30 L719.76,760.21 L721.26,760.13 L722.77,760.05 L724.28,759.98 L725.79,759.91 L727.30,759.85 L728.80,759.79 L730.31,759.73 L731.82,759.68 L733.33,759.63 L734.84,759.59 L736.35,759.55 L737.86,759.51 L739.37,759.48 L740.89,759.45 L742.40,759.42 L743.91,759.40 L745.42,759.38 L746.93,759.37 L748.44,759.36 L749.95,759.35 L751.46,759.34 L752.97,759.34 L754.48,759.34 L755.99,759.34 L757.50,759.35 L759.01,759.36 L760.52,759.37 L762.03,759.38" class="m"/>
<path d="M477.87,894.59 L479.25,894.02 L480.63,893.45 L482.00,892.87 L483.38,892.30 L484.76,891.72 L486.13,891.13 L487.51,890.55 L488.88,889.96 L490.25,889.37 L491.63,888.78 L493.00,888.18 L494.37,887.59 L495.74,886.99 L497.12,886.39 L498.49,885.78 L499.86,885.18 L501.23,884.57 L502.60,883.96 L503.97,883.35 L505.34,882.74 L506.71,882.13 L508.08,881.52 L509.45,880.90 L510.82,880.28 L512.19,879.66 L513.56,879.05 L514.92,878.43 L516.29,877.80 L517.66,877.18 L519.03,876.56 L520.40,875.94 L521.77,875.31 L523.14,874.69 L524.51,874.06 L525.87,873.44 L527.24,872.81 L528.61,872.18 L529.98,871.56 L531.35,870.93 L532.72,870.30 L534.09,869.68 L535.46,869.05 L536.83,868.42 L538.20,867.80 L539.57,867.17 L540.94,866.55 L542.31,865.92 L543.68,865.30 L545.05,864.68 L546.43,864.05 L547.80,863.43 L549.17,862.81 L550.54,862.19 L551.92,861.57 L553.29,860.95 L554.67,860.34 L556.04,859.72 L557.42,859.11 L558.79,858.49 L560.17,857.88 L561.54,857.27 L562.92,856.67 L564.30,856.06 L565.68,855.46 L567.06,854.85 L568.44,854.25 L569.82,853.65 L571.20,853.06 L572.58,852.46 L573.96,851.87 L575.35,851.28 L576.73,850.69 L578.12,850.11 L579.50,849.53 L580.89,848.95 L582.28,848.37 L583.66,847.80 L585.05,847.23 L586.44,846.66 L587.83,846.09 L589.23,845.53 L590.62,844.97 L592.01,844.42 L593.41,843.87 L594.80,843.32 L596.20,842.77 L597.60,842.23 L599.00,841.69 L600.40,841.16 L601.80,840.63 L603.20,840.10 L604.60,839.58 L606.01,839.06 L607.41,838.54 L608.82,838.03 L610.23,837.53 L611.64,837.03 L613.05,836.53 L614.46,836.04 L615.87,835.55 L617.29,835.06 L618.70,834.58 L620.12,834.11 L621.54,833.64 L622.96,833.18 L624.38,832.72 L625.80,832.26 L627.23,831.81 L628.65,831.37 L630.08,830.93 L631.51,830.50 L632.94,830.07 L634.37,829.65 L635.80,829.23 L637.24,828.82 L638.67,828.42 L640.11,828.02 L641.55,827.63 L642.99,827.24 L644.44,826.86 L645.88,826.48 L647.33,826.11 L648.77,825.75 L650.22,825.40 L651.68,825.05 L653.13,824.70 L654.58,824.37 L656.04,824.04 L657.50,823.71 L658.96,823.40 L660.42,823.08 L661.88,822.78 L663.35,822.48 L664.82,822.19 L666.28,821.90 L667.75,821.62 L669.22,821.34 L670.70,821.08 L672.17,820.81 L673.65,820.55 L675.12,820.30 L676.60,820.05 L678.08,819.81 L679.56,819.58 L681.04,819.34 L682.52,819.12 L684.01,818.90 L685.49,818.68 L686.98,818.47 L688.47,818.26 L689.95,818.06 L691.44,817.87 L692.93,817.68 L694.42,817.49 L695.92,817.31 L697.41,817.13 L698.90,816.96 L700.40,816.79 L701.89,816.62 L703.39,816.46 L704.89,816.31 L706.38,816.15 L707.88,816.01 L709.38,815.86 L710.88,815.72 L712.38,815.59 L713.88,815.45 L715.38,815.33 L716.88,815.20 L718.39,815.08 L719.89,814.96 L721.39,814.85 L722.89,814.74 L724.40,814.63 L725.90,814.52 L727.41,814.42 L728.91,814.33 L730.41,814.23 L731.92,814.14 L733.42,814.05 L734.93,813.96 L736.43,813.88 L737.94,813.80 L739.44,813.72 L740.95,813.64 L742.46,813.57 L743.96,813.50 L745.47,813.43 L746.97,813.37 L748.48,813.30 L749.98,813.24 L751.48,813.18 L752.99,813.12 L754.49,813.07 L756.00,813.01 L757.50,812.96 L759.00,812.91 L760.50,812.86 L762.01,812.82" class="m"/>
<path d="M761.9,758.9 C760.9,761.9 759.6,764.9 759,768 C758.4,771.2 758.5,774.2 758.5,778 C758.5,782.9 758.9,789.3 759.5,795 C760.1,800.8 761.1,806.6 761.9,812.4" class="t"/>
<path d="M477.88,986.01 L479.24,986.58 L480.60,987.14 L481.96,987.71 L483.32,988.28 L484.68,988.86 L486.04,989.43 L487.39,990.01 L488.75,990.59 L490.11,991.17 L491.47,991.76 L492.83,992.34 L494.18,992.93 L495.54,993.52 L496.90,994.11 L498.26,994.70 L499.61,995.29 L500.97,995.88 L502.33,996.48 L503.68,997.08 L505.04,997.68 L506.39,998.28 L507.75,998.88 L509.11,999.48 L510.46,1000.08 L511.82,1000.68 L513.17,1001.29 L514.53,1001.89 L515.89,1002.50 L517.24,1003.10 L518.60,1003.71 L519.96,1004.32 L521.31,1004.93 L522.67,1005.53 L524.02,1006.14 L525.38,1006.75 L526.74,1007.36 L528.09,1007.97 L529.45,1008.58 L530.81,1009.18 L532.17,1009.79 L533.52,1010.40 L534.88,1011.01 L536.24,1011.62 L537.60,1012.22 L538.96,1012.83 L540.32,1013.44 L541.68,1014.04 L543.04,1014.65 L544.40,1015.25 L545.76,1015.86 L547.12,1016.46 L548.48,1017.06 L549.84,1017.66 L551.20,1018.26 L552.57,1018.86 L553.93,1019.46 L555.29,1020.06 L556.66,1020.65 L558.02,1021.25 L559.39,1021.84 L560.75,1022.43 L562.12,1023.02 L563.48,1023.61 L564.85,1024.19 L566.22,1024.78 L567.59,1025.36 L568.96,1025.94 L570.33,1026.52 L571.70,1027.10 L573.07,1027.67 L574.44,1028.25 L575.81,1028.82 L577.18,1029.38 L578.56,1029.95 L579.93,1030.51 L581.31,1031.07 L582.68,1031.63 L584.06,1032.19 L585.44,1032.74 L586.82,1033.29 L588.20,1033.84 L589.58,1034.38 L590.96,1034.92 L592.34,1035.46 L593.72,1036.00 L595.11,1036.53 L596.49,1037.06 L597.88,1037.59 L599.26,1038.11 L600.65,1038.63 L602.04,1039.15 L603.43,1039.66 L604.82,1040.17 L606.21,1040.67 L607.61,1041.17 L609.00,1041.67 L610.39,1042.16 L611.79,1042.65 L613.19,1043.14 L614.59,1043.62 L615.99,1044.10 L617.39,1044.57 L618.79,1045.04 L620.19,1045.51 L621.60,1045.97 L623.00,1046.42 L624.41,1046.88 L625.82,1047.32 L627.22,1047.77 L628.64,1048.20 L630.05,1048.64 L631.46,1049.06 L632.87,1049.49 L634.29,1049.91 L635.71,1050.32 L637.13,1050.73 L638.55,1051.13 L639.97,1051.53 L641.39,1051.92 L642.82,1052.31 L644.24,1052.69 L645.67,1053.06 L647.10,1053.44 L648.53,1053.80 L649.96,1054.16 L651.39,1054.51 L652.83,1054.86 L654.26,1055.20 L655.70,1055.54 L657.14,1055.87 L658.58,1056.19 L660.02,1056.51 L661.47,1056.82 L662.91,1057.13 L664.36,1057.43 L665.81,1057.73 L667.26,1058.02 L668.71,1058.30 L670.16,1058.58 L671.62,1058.85 L673.07,1059.12 L674.53,1059.38 L675.99,1059.64 L677.44,1059.89 L678.91,1060.13 L680.37,1060.37 L681.83,1060.61 L683.29,1060.84 L684.76,1061.06 L686.22,1061.28 L687.69,1061.50 L689.16,1061.70 L690.63,1061.91 L692.10,1062.11 L693.57,1062.30 L695.04,1062.49 L696.51,1062.67 L697.99,1062.85 L699.46,1063.03 L700.94,1063.20 L702.42,1063.36 L703.89,1063.52 L705.37,1063.67 L706.85,1063.82 L708.33,1063.97 L709.81,1064.11 L711.29,1064.25 L712.77,1064.38 L714.26,1064.51 L715.74,1064.63 L717.22,1064.75 L718.71,1064.86 L720.19,1064.97 L721.68,1065.08 L723.16,1065.18 L724.65,1065.27 L726.14,1065.36 L727.63,1065.45 L729.11,1065.54 L730.60,1065.62 L732.09,1065.69 L733.58,1065.76 L735.07,1065.83 L736.56,1065.90 L738.05,1065.96 L739.54,1066.01 L741.03,1066.06 L742.52,1066.11 L744.01,1066.15 L745.51,1066.20 L747.00,1066.23 L748.49,1066.27 L749.98,1066.29 L751.47,1066.32 L752.97,1066.34 L754.46,1066.36 L755.95,1066.38 L757.44,1066.39 L758.93,1066.40" class="m"/>
<path d="M478.78,1040.22 L480.13,1040.80 L481.48,1041.37 L482.83,1041.95 L484.18,1042.53 L485.53,1043.12 L486.88,1043.70 L488.23,1044.29 L489.57,1044.87 L490.92,1045.46 L492.27,1046.05 L493.62,1046.65 L494.97,1047.24 L496.32,1047.84 L497.67,1048.43 L499.02,1049.03 L500.36,1049.63 L501.71,1050.23 L503.06,1050.84 L504.41,1051.44 L505.76,1052.04 L507.11,1052.65 L508.45,1053.25 L509.80,1053.86 L511.15,1054.47 L512.50,1055.07 L513.85,1055.68 L515.20,1056.29 L516.55,1056.90 L517.90,1057.51 L519.25,1058.12 L520.60,1058.73 L521.95,1059.34 L523.30,1059.95 L524.65,1060.57 L526.00,1061.18 L527.35,1061.79 L528.70,1062.40 L530.05,1063.01 L531.40,1063.62 L532.75,1064.23 L534.11,1064.84 L535.46,1065.45 L536.81,1066.06 L538.16,1066.67 L539.52,1067.28 L540.87,1067.88 L542.23,1068.49 L543.58,1069.09 L544.94,1069.70 L546.29,1070.30 L547.65,1070.91 L549.01,1071.51 L550.36,1072.11 L551.72,1072.71 L553.08,1073.31 L554.44,1073.90 L555.80,1074.50 L557.16,1075.09 L558.52,1075.69 L559.88,1076.28 L561.24,1076.87 L562.60,1077.46 L563.96,1078.04 L565.33,1078.63 L566.69,1079.21 L568.06,1079.79 L569.42,1080.37 L570.79,1080.95 L572.15,1081.52 L573.52,1082.09 L574.89,1082.66 L576.26,1083.23 L577.63,1083.80 L579.00,1084.36 L580.37,1084.92 L581.74,1085.48 L583.12,1086.03 L584.49,1086.59 L585.86,1087.14 L587.24,1087.68 L588.62,1088.23 L589.99,1088.77 L591.37,1089.31 L592.75,1089.84 L594.13,1090.37 L595.51,1090.90 L596.89,1091.43 L598.28,1091.95 L599.66,1092.47 L601.04,1092.99 L602.43,1093.50 L603.82,1094.01 L605.20,1094.51 L606.59,1095.01 L607.98,1095.51 L609.37,1096.00 L610.77,1096.49 L612.16,1096.98 L613.55,1097.46 L614.95,1097.94 L616.35,1098.41 L617.74,1098.88 L619.14,1099.34 L620.54,1099.80 L621.94,1100.26 L623.35,1100.71 L624.75,1101.16 L626.16,1101.60 L627.56,1102.04 L628.97,1102.47 L630.38,1102.90 L631.79,1103.32 L633.20,1103.74 L634.61,1104.16 L636.03,1104.57 L637.44,1104.97 L638.86,1105.37 L640.28,1105.76 L641.70,1106.15 L643.12,1106.53 L644.54,1106.91 L645.97,1107.28 L647.39,1107.65 L648.82,1108.01 L650.25,1108.36 L651.68,1108.71 L653.11,1109.05 L654.54,1109.39 L655.97,1109.72 L657.41,1110.05 L658.85,1110.37 L660.29,1110.68 L661.73,1110.99 L663.17,1111.29 L664.61,1111.59 L666.06,1111.88 L667.50,1112.16 L668.95,1112.44 L670.40,1112.71 L671.85,1112.98 L673.30,1113.24 L674.76,1113.49 L676.21,1113.74 L677.67,1113.99 L679.13,1114.22 L680.58,1114.46 L682.04,1114.69 L683.50,1114.91 L684.97,1115.12 L686.43,1115.34 L687.89,1115.54 L689.36,1115.74 L690.82,1115.94 L692.29,1116.13 L693.76,1116.32 L695.23,1116.50 L696.70,1116.68 L698.17,1116.85 L699.64,1117.01 L701.11,1117.18 L702.59,1117.33 L704.06,1117.49 L705.54,1117.63 L707.01,1117.78 L708.49,1117.92 L709.97,1118.05 L711.44,1118.18 L712.92,1118.31 L714.40,1118.43 L715.88,1118.54 L717.36,1118.66 L718.84,1118.77 L720.32,1118.87 L721.80,1118.97 L723.28,1119.07 L724.77,1119.16 L726.25,1119.25 L727.73,1119.33 L729.22,1119.41 L730.70,1119.49 L732.18,1119.56 L733.67,1119.63 L735.15,1119.69 L736.64,1119.76 L738.12,1119.81 L739.61,1119.87 L741.09,1119.92 L742.58,1119.97 L744.06,1120.01 L745.55,1120.05 L747.04,1120.09 L748.52,1120.13 L750.01,1120.16 L751.49,1120.19 L752.98,1120.21 L754.46,1120.23 L755.95,1120.25 L757.43,1120.27 L758.92,1120.28" class="m"/>
<path d="M758.8,1066.8 C757,1069.5 754.7,1072.2 753.5,1075 C752.4,1077.6 751.8,1080 751.6,1083 C751.4,1086.6 752.3,1091.1 753,1095 C753.6,1098.8 754.6,1102.1 755.5,1106 C756.5,1110.5 757.7,1115.8 758.8,1120.7" class="t"/>
<path d="M617.15,835.00 L617.36,836.04 L617.57,837.08 L617.78,838.12 L617.98,839.16 L618.19,840.20 L618.39,841.24 L618.58,842.28 L618.78,843.32 L618.97,844.37 L619.16,845.41 L619.35,846.45 L619.54,847.50 L619.73,848.54 L619.91,849.59 L620.09,850.63 L620.27,851.68 L620.45,852.73 L620.62,853.77 L620.79,854.82 L620.96,855.87 L621.13,856.92 L621.30,857.97 L621.46,859.01 L621.62,860.06 L621.78,861.11 L621.94,862.16 L622.10,863.22 L622.25,864.27 L622.40,865.32 L622.55,866.37 L622.70,867.42 L622.84,868.48 L622.99,869.53 L623.13,870.58 L623.27,871.64 L623.40,872.69 L623.54,873.75 L623.67,874.80 L623.80,875.86 L623.93,876.91 L624.06,877.97 L624.18,879.03 L624.30,880.08 L624.42,881.14 L624.54,882.20 L624.65,883.26 L624.77,884.32 L624.88,885.37 L624.99,886.43 L625.10,887.49 L625.20,888.55 L625.30,889.61 L625.40,890.67 L625.50,891.73 L625.60,892.79 L625.69,893.85 L625.79,894.91 L625.88,895.97 L625.97,897.04 L626.05,898.10 L626.14,899.16 L626.22,900.22 L626.30,901.28 L626.38,902.35 L626.45,903.41 L626.53,904.47 L626.60,905.53 L626.67,906.60 L626.73,907.66 L626.80,908.73 L626.86,909.79 L626.92,910.85 L626.98,911.92 L627.04,912.98 L627.09,914.05 L627.15,915.11 L627.20,916.18 L627.24,917.24 L627.29,918.31 L627.34,919.37 L627.38,920.44 L627.42,921.50 L627.46,922.57 L627.49,923.63 L627.53,924.70 L627.56,925.76 L627.59,926.83 L627.61,927.89 L627.64,928.96 L627.66,930.03 L627.68,931.09 L627.70,932.16 L627.72,933.23 L627.74,934.29 L627.75,935.36 L627.76,936.42 L627.77,937.49 L627.78,938.56 L627.78,939.62 L627.78,940.69 L627.78,941.76 L627.78,942.82 L627.78,943.89 L627.77,944.95 L627.76,946.02 L627.75,947.09 L627.74,948.15 L627.73,949.22 L627.71,950.29 L627.69,951.35 L627.67,952.42 L627.65,953.48 L627.62,954.55 L627.60,955.62 L627.57,956.68 L627.54,957.75 L627.51,958.81 L627.47,959.88 L627.43,960.94 L627.39,962.01 L627.35,963.07 L627.31,964.14 L627.26,965.20 L627.22,966.27 L627.17,967.33 L627.12,968.40 L627.06,969.46 L627.01,970.53 L626.95,971.59 L626.89,972.65 L626.83,973.72 L626.76,974.78 L626.70,975.84 L626.63,976.91 L626.56,977.97 L626.49,979.03 L626.41,980.10 L626.33,981.16 L626.26,982.22 L626.18,983.28 L626.09,984.34 L626.01,985.41 L625.92,986.47 L625.83,987.53 L625.74,988.59 L625.65,989.65 L625.55,990.71 L625.46,991.77 L625.36,992.83 L625.25,993.89 L625.15,994.95 L625.05,996.01 L624.94,997.07 L624.83,998.12 L624.72,999.18 L624.60,1000.24 L624.49,1001.30 L624.37,1002.35 L624.25,1003.41 L624.13,1004.47 L624.00,1005.52 L623.88,1006.58 L623.75,1007.63 L623.62,1008.69 L623.49,1009.74 L623.35,1010.80 L623.22,1011.85 L623.08,1012.91 L622.94,1013.96 L622.79,1015.01 L622.65,1016.06 L622.50,1017.12 L622.35,1018.17 L622.20,1019.22 L622.05,1020.27 L621.89,1021.32 L621.74,1022.37 L621.58,1023.42 L621.42,1024.47 L621.25,1025.52 L621.09,1026.57 L620.92,1027.61 L620.75,1028.66 L620.58,1029.71 L620.41,1030.75 L620.23,1031.80 L620.05,1032.84 L619.87,1033.89 L619.69,1034.93 L619.51,1035.98 L619.32,1037.02 L619.13,1038.06 L618.94,1039.11 L618.75,1040.15 L618.56,1041.19 L618.36,1042.23 L618.16,1043.27 L617.96,1044.31 L617.76,1045.35" class="m"/>
<path d="M705.83,817.00 L705.54,818.21 L705.25,819.43 L704.96,820.64 L704.68,821.85 L704.40,823.07 L704.13,824.28 L703.86,825.50 L703.59,826.72 L703.32,827.93 L703.06,829.15 L702.80,830.37 L702.54,831.59 L702.29,832.80 L702.04,834.02 L701.79,835.24 L701.55,836.46 L701.31,837.68 L701.08,838.91 L700.84,840.13 L700.61,841.35 L700.38,842.57 L700.16,843.79 L699.94,845.02 L699.72,846.24 L699.51,847.47 L699.30,848.69 L699.09,849.92 L698.88,851.14 L698.68,852.37 L698.48,853.59 L698.29,854.82 L698.10,856.05 L697.91,857.28 L697.72,858.50 L697.54,859.73 L697.36,860.96 L697.18,862.19 L697.01,863.42 L696.84,864.65 L696.67,865.88 L696.50,867.11 L696.34,868.34 L696.18,869.57 L696.03,870.80 L695.88,872.03 L695.73,873.27 L695.58,874.50 L695.44,875.73 L695.30,876.97 L695.16,878.20 L695.02,879.43 L694.89,880.67 L694.76,881.90 L694.64,883.14 L694.51,884.37 L694.39,885.61 L694.28,886.84 L694.16,888.08 L694.05,889.31 L693.94,890.55 L693.84,891.78 L693.74,893.02 L693.64,894.26 L693.54,895.49 L693.44,896.73 L693.35,897.97 L693.27,899.21 L693.18,900.45 L693.10,901.68 L693.02,902.92 L692.94,904.16 L692.87,905.40 L692.80,906.64 L692.73,907.88 L692.66,909.12 L692.60,910.36 L692.54,911.60 L692.48,912.84 L692.43,914.07 L692.37,915.31 L692.33,916.56 L692.28,917.80 L692.24,919.04 L692.20,920.28 L692.16,921.52 L692.12,922.76 L692.09,924.00 L692.06,925.24 L692.03,926.48 L692.01,927.72 L691.98,928.96 L691.97,930.20 L691.95,931.45 L691.93,932.69 L691.92,933.93 L691.91,935.17 L691.91,936.41 L691.90,937.65 L691.90,938.90 L691.91,940.14 L691.91,941.38 L691.92,942.62 L691.93,943.86 L691.94,945.10 L691.95,946.35 L691.97,947.59 L691.99,948.83 L692.01,950.07 L692.04,951.31 L692.06,952.56 L692.09,953.80 L692.13,955.04 L692.16,956.28 L692.20,957.52 L692.24,958.76 L692.28,960.01 L692.33,961.25 L692.37,962.49 L692.42,963.73 L692.48,964.97 L692.53,966.21 L692.59,967.46 L692.65,968.70 L692.71,969.94 L692.77,971.18 L692.84,972.42 L692.91,973.66 L692.98,974.90 L693.05,976.14 L693.13,977.38 L693.21,978.62 L693.29,979.86 L693.37,981.10 L693.46,982.34 L693.55,983.58 L693.64,984.82 L693.73,986.06 L693.83,987.30 L693.93,988.54 L694.03,989.78 L694.13,991.02 L694.23,992.26 L694.34,993.50 L694.45,994.73 L694.56,995.97 L694.67,997.21 L694.79,998.45 L694.91,999.68 L695.03,1000.92 L695.15,1002.16 L695.27,1003.40 L695.40,1004.63 L695.53,1005.87 L695.66,1007.10 L695.80,1008.34 L695.93,1009.58 L696.07,1010.81 L696.21,1012.05 L696.35,1013.28 L696.50,1014.51 L696.64,1015.75 L696.79,1016.98 L696.94,1018.22 L697.10,1019.45 L697.25,1020.68 L697.41,1021.92 L697.57,1023.15 L697.73,1024.38 L697.89,1025.61 L698.06,1026.84 L698.23,1028.07 L698.40,1029.30 L698.57,1030.54 L698.74,1031.77 L698.92,1032.99 L699.10,1034.22 L699.28,1035.45 L699.46,1036.68 L699.64,1037.91 L699.83,1039.14 L700.02,1040.36 L700.21,1041.59 L700.40,1042.82 L700.59,1044.04 L700.79,1045.27 L700.99,1046.50 L701.19,1047.72 L701.39,1048.95 L701.59,1050.17 L701.80,1051.39 L702.01,1052.62 L702.22,1053.84 L702.43,1055.06 L702.64,1056.28 L702.86,1057.50 L703.08,1058.73 L703.30,1059.95 L703.52,1061.17 L703.74,1062.39" class="m"/>
<circle cx="659.7" cy="852.7" r="27.2" class="m" style="stroke-width:1.5"/>
<circle cx="659.4" cy="852.7" r="8.6" class="t" style="stroke:#555;stroke-width:1.1"/>
<path d="M652.6,852.7 A6.8,6.8 0 1 0 659.4,845.9000000000001" class="t" style="stroke:#666;stroke-width:0.9"/>
<circle cx="659.7" cy="1028" r="27.2" class="m" style="stroke-width:1.5"/>
<circle cx="659.4" cy="1028" r="8.6" class="t" style="stroke:#555;stroke-width:1.1"/>
<path d="M652.6,1028 A6.8,6.8 0 1 0 659.4,1021.2" class="t" style="stroke:#666;stroke-width:0.9"/>
<path d="M642.5,916.3 A16.75,16.75 0 0 1 676,916.3 L676,963.7 A16.75,16.75 0 0 1 642.5,963.7 Z" class="m"/>
<line x1="625.1" y1="852.7" x2="748.9" y2="852.7" class="t"/>
<line x1="627.1" y1="1028" x2="748.9" y2="1028" class="t"/>
<line x1="740.2" y1="852.7" x2="740.2" y2="1028" class="t"/>
<polyline points="744.7,863 740.2,853 735.7,863" class="t"/>
<polyline points="735.7,1017.7 740.2,1027.7 744.7,1017.7" class="t"/>
<text x="737.5" y="941.5" class="num" text-anchor="middle" transform="rotate(-90 737.5 941.5)" style="font-size:22px">58</text>
<text x="566.7" y="948.4" class="num" text-anchor="middle" style="font-size:22px;word-spacing:1px;stroke-width:0.1">A - A</text>
<line x1="596.8" y1="940.5" x2="620.4" y2="940.5" class="k" style="stroke-width:3.6"/>
<line x1="696.3" y1="940.5" x2="719.9" y2="940.5" class="k" style="stroke-width:3.6"/>
<text x="610.6" y="810.6" class="sm" text-anchor="middle" style="font-size:14.3px">M6</text>
<line x1="600.8" y1="813.2" x2="620.6" y2="813.2" class="t"/>
<line x1="620.6" y1="813.2" x2="652.8" y2="843.9" class="t"/>
<line x1="652.8" y1="843.9" x2="669" y2="862" class="t"/>
<polyline points="641.7,838 651.5,842.5 647.5,832.5" class="t"/>
<polyline points="678.3,865.5 668.5,861 672.5,871" class="t"/>
<text x="610.6" y="1065" class="sm" text-anchor="middle" style="font-size:14.3px">M6</text>
<line x1="600.8" y1="1066.8" x2="625.7" y2="1066.8" class="t"/>
<line x1="625.7" y1="1066.8" x2="675.6" y2="1009.7" class="t"/>
<polyline points="647,1048.7 650.5,1038.5 640.9,1043.4" class="t"/>
<polyline points="672,1007.3 668.5,1017.5 678.1,1012.6" class="t"/>
</svg>
</body></html>
